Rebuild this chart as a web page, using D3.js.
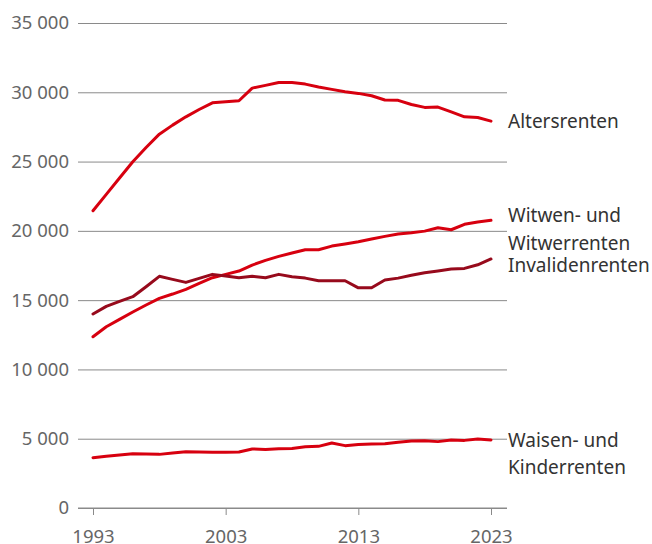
<!DOCTYPE html>
<html>
<head>
<meta charset="utf-8">
<script src="https://cdn.jsdelivr.net/npm/d3@7"></script>
<style>
  html, body { margin: 0; padding: 0; background: #fff; }
  svg { display: block; font-family: "Noto Sans", "Open Sans", sans-serif; }
</style>
</head>
<body>
<svg id="chart" width="652" height="544"></svg>
<script>
// Rentenbezüge nach Rentenart, 1993–2023 (Anzahl)
const years = d3.range(1993, 2024);

const altersrenten = [
  21450, 22630, 23810, 24990, 26020, 26980, 27630, 28230, 28760, 29240,
  29320, 29390, 30300, 30500, 30710, 30710, 30590, 30380, 30210, 30040,
  29920, 29750, 29440, 29420, 29120, 28910, 28930, 28590, 28230, 28180,
  27920
];

const witwenrenten = [
  12360, 13080, 13610, 14140, 14650, 15130, 15440, 15780, 16210, 16620,
  16860, 17100, 17530, 17870, 18160, 18400, 18640, 18640, 18900, 19050,
  19210, 19410, 19600, 19770, 19860, 19980, 20220, 20080, 20470, 20640,
  20760
];

const invalidenrenten = [
  14000, 14550, 14910, 15250, 15970, 16720, 16500, 16280, 16570, 16860,
  16740, 16620, 16720, 16620, 16860, 16690, 16590, 16400, 16400, 16400,
  15890, 15890, 16450, 16590, 16790, 16980, 17100, 17240, 17290, 17550,
  17970
];

const waisenrenten = [
  3630, 3730, 3820, 3920, 3900, 3870, 3970, 4060, 4040, 4020,
  4020, 4040, 4260, 4230, 4280, 4300, 4420, 4450, 4690, 4500,
  4590, 4620, 4640, 4740, 4830, 4860, 4790, 4910, 4880, 4980,
  4910
];

const yTicks = [0, 5000, 10000, 15000, 20000, 25000, 30000, 35000];
const xTicks = [1993, 2003, 2013, 2023];

const series = [
  { name: ["Altersrenten"], values: altersrenten, color: "#d7000f", dy: 2 },
  { name: ["Witwen- und", "Witwerrenten"], values: witwenrenten, color: "#d7000f", dy: -3 },
  { name: ["Invalidenrenten"], values: invalidenrenten, color: "#970a1c", dy: 8 },
  { name: ["Waisen- und", "Kinderrenten"], values: waisenrenten, color: "#d7000f", dy: 2 }
];

const svg = d3.select("#chart");
const x = d3.scaleLinear().domain([1993, 2023]).range([93, 491]);
const y = d3.scaleLinear().domain([0, 35000]).range([508, 23]);
const gridLeft = 78, gridRight = 507;
const tickFont = 18.5, labelFont = 19;

const fmt = v => d3.format(",")(v).replace(/,/g, "\u00a0");

// horizontal grid + y labels
const yAxis = d3.axisLeft(y)
  .tickValues(yTicks)
  .tickSize(-(gridRight - gridLeft))
  .tickPadding(9)
  .tickFormat(fmt);
const gy = svg.append("g")
  .attr("transform", `translate(${gridLeft},0)`)
  .call(yAxis);
gy.select(".domain").remove();
gy.selectAll(".tick line").attr("stroke", "#8a8a8a").attr("stroke-width", 1);
gy.selectAll(".tick text")
  .attr("fill", "#666")
  .attr("font-size", tickFont)
  .attr("font-family", "Noto Sans, Open Sans, sans-serif");

// x axis
const xAxis = d3.axisBottom(x)
  .tickValues(xTicks)
  .tickSize(7)
  .tickPadding(15)
  .tickFormat(d3.format("d"));
const gx = svg.append("g")
  .attr("transform", `translate(0,${y(0)})`)
  .call(xAxis);
gx.select(".domain").remove();
gx.append("line")
  .attr("x1", gridLeft).attr("x2", gridRight)
  .attr("y1", 0).attr("y2", 0)
  .attr("stroke", "#8a8a8a");
gx.selectAll(".tick line").attr("stroke", "#8a8a8a");
gx.selectAll(".tick text")
  .attr("fill", "#666")
  .attr("font-size", tickFont)
  .attr("font-family", "Noto Sans, Open Sans, sans-serif");

// lines
const line = d3.line()
  .x((d, i) => x(years[i]))
  .y(d => y(d));

series.forEach(s => {
  svg.append("path")
    .datum(s.values)
    .attr("fill", "none")
    .attr("stroke", s.color)
    .attr("stroke-width", 3)
    .attr("stroke-linejoin", "round")
    .attr("stroke-linecap", "round")
    .attr("d", line);
});

// end labels
series.forEach(s => {
  const last = s.values[s.values.length - 1];
  const t = svg.append("text")
    .attr("x", 508)
    .attr("y", y(last) + s.dy)
    .attr("fill", "#333")
    .attr("font-size", labelFont)
    .attr("dominant-baseline", "middle");
  s.name.forEach((ln, i) => {
    t.append("tspan")
      .attr("x", 508)
      .attr("dy", i === 0 ? 0 : 27.5)
      .text(ln);
  });
});
</script>
</body>
</html>
